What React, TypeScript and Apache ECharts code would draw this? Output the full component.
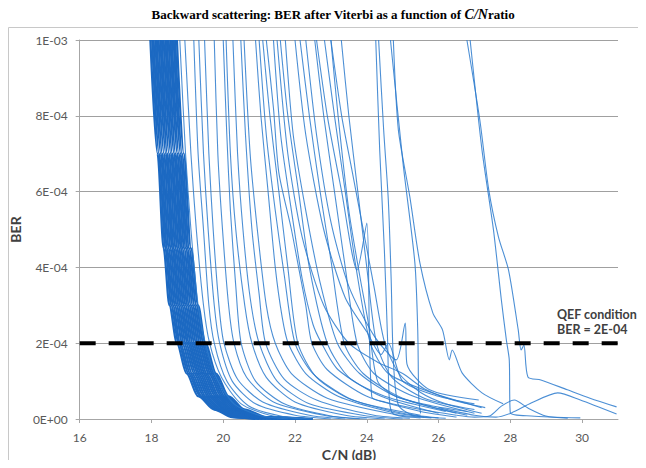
import React, { useEffect, useRef } from 'react';
import * as echarts from 'echarts';

// X axis (C/N in dB)
const X_MIN = 16;
const X_MAX = 31;
const X_TICKS = [16, 18, 20, 22, 24, 26, 28, 30];
// Y axis: BER values are stored in units of 1E-04
const Y_TICK_LABELS = ['0E+00', '2E-04', '4E-04', '6E-04', '8E-04', '1E-03'];
const QEF_LEVEL = 2; // 2E-04
const QEF_X = [16, 31.33];

// Dense band of curves: shared BER levels, one x-array per curve
const DENSE_Y = [10, 7, 4.5, 3, 2, 1.2, 0.6, 0.25, 0.05, 0];
const DENSE_X = [
  [17.97, 18.17, 18.34, 18.5, 18.71, 18.98, 19.3, 19.75, 20.25, 20.9],
  [18.02, 18.21, 18.39, 18.55, 18.76, 19.03, 19.36, 19.8, 20.3, 21.0],
  [18.06, 18.26, 18.43, 18.6, 18.8, 19.08, 19.4, 19.86, 20.37, 21.1],
  [18.11, 18.3, 18.48, 18.65, 18.86, 19.13, 19.46, 19.91, 20.42, 21.2],
  [18.15, 18.35, 18.53, 18.7, 18.91, 19.19, 19.51, 19.96, 20.49, 21.3],
  [18.2, 18.4, 18.58, 18.75, 18.96, 19.24, 19.57, 20.02, 20.55, 21.4],
  [18.25, 18.44, 18.62, 18.8, 19.01, 19.29, 19.62, 20.07, 20.61, 21.5],
  [18.29, 18.49, 18.67, 18.85, 19.05, 19.34, 19.67, 20.12, 20.66, 21.6],
  [18.34, 18.54, 18.72, 18.9, 19.1, 19.39, 19.72, 20.18, 20.72, 21.7],
  [18.39, 18.58, 18.77, 18.95, 19.15, 19.44, 19.78, 20.23, 20.79, 21.8],
  [18.43, 18.63, 18.82, 19.0, 19.2, 19.49, 19.83, 20.28, 20.85, 21.9],
  [18.48, 18.67, 18.86, 19.05, 19.25, 19.54, 19.88, 20.34, 20.9, 22.0],
  [18.53, 18.72, 18.91, 19.1, 19.3, 19.6, 19.94, 20.39, 20.96, 22.1],
  [18.57, 18.76, 18.96, 19.15, 19.35, 19.65, 19.99, 20.44, 21.02, 22.2],
  [18.62, 18.81, 19.0, 19.2, 19.4, 19.7, 20.04, 20.5, 21.08, 22.3],
  [18.66, 18.85, 19.05, 19.25, 19.45, 19.75, 20.1, 20.55, 21.14, 22.4],
  [18.71, 18.9, 19.1, 19.3, 19.5, 19.8, 20.15, 20.6, 21.2, 22.5],
];

// Sparser individual curves: [C/N dB, BER x 1E-04]
const SPARSE: number[][][] = [
  [[18.79, 10], [18.95, 7], [19.1, 5], [19.3, 3], [19.5, 2], [19.8, 1.1], [20.3, 0.4], [21.0, 0.1], [21.8, 0]],
  [[18.93, 10], [19.1, 7], [19.25, 5], [19.45, 3], [19.62, 2], [19.95, 1.1], [20.5, 0.4], [21.3, 0.1], [22.2, 0]],
  [[19.18, 10], [19.3, 7], [19.45, 5], [19.6, 3], [19.75, 2], [20.1, 1.0], [20.7, 0.35], [21.6, 0.08], [22.5, 0]],
  [[19.32, 10], [19.45, 7], [19.58, 5], [19.75, 3], [19.9, 2], [20.25, 1.0], [20.9, 0.4], [22.0, 0.1], [23.0, 0]],
  [[19.48, 10], [19.6, 7], [19.72, 5], [19.88, 3], [20.02, 2], [20.4, 1.05], [21.1, 0.45], [22.4, 0.1], [23.4, 0]],
  [[19.75, 10], [19.85, 7], [19.98, 5], [20.15, 3], [20.3, 2], [20.65, 1.1], [21.4, 0.45], [22.8, 0.1], [23.8, 0]],
  [[20.0, 10], [20.1, 7.5], [20.2, 5.5], [20.35, 3.5], [20.5, 2], [20.9, 1.0], [21.7, 0.4], [23.0, 0.08], [24.0, 0]],
  [[20.08, 10], [20.2, 7], [20.35, 5], [20.6, 3], [20.8, 2], [21.2, 1.1], [22.0, 0.45], [23.4, 0.1], [24.5, 0]],
  [[20.27, 10], [20.4, 7], [20.55, 5], [20.75, 3.2], [21.0, 2], [21.5, 1.0], [22.4, 0.4], [24.0, 0.08], [25.0, 0]],
  [[20.49, 10], [20.62, 7.5], [20.8, 5], [21.0, 3.3], [21.18, 2], [21.7, 1.05], [22.6, 0.5], [24.2, 0.1], [25.2, 0.02]],
  [[20.58, 10], [20.75, 7], [20.95, 5], [21.2, 3], [21.45, 2], [21.9, 1.2], [22.9, 0.55], [24.8, 0.12], [25.8, 0.03]],
  [[20.9, 10], [21.05, 8], [21.25, 6], [21.45, 4], [21.64, 2.7], [21.81, 2], [22.3, 1.2], [23.2, 0.6], [24.6, 0.2], [25.6, 0.05]],
  [[21.0, 10], [21.2, 7.5], [21.45, 5.5], [21.7, 3.8], [22.0, 2], [22.5, 1.2], [23.5, 0.55], [25.0, 0.15], [26.0, 0.03]],
  [[21.1, 10], [21.3, 8], [21.55, 6], [21.8, 4], [22.08, 2], [22.6, 1.1], [23.6, 0.5], [25.5, 0.1]],
  [[21.2, 10], [21.4, 8.2], [21.55, 6.5], [21.9, 5.0], [22.1, 4.0], [22.3, 3.0], [22.47, 2], [22.9, 1.3], [24.0, 0.6], [25.5, 0.2], [26.5, 0.05]],
  [[21.4, 10], [21.6, 7.5], [21.9, 5.5], [22.2, 3.7], [22.5, 2.5], [22.74, 2], [23.2, 1.3], [24.4, 0.6], [26.0, 0.15]],
  [[21.59, 10], [21.8, 8], [22.1, 6], [22.4, 4], [22.9, 2], [23.5, 1.1], [24.5, 0.6], [26.2, 0.2]],
  [[21.73, 10], [21.95, 7.5], [22.3, 5.5], [22.7, 3.6], [23.18, 2], [23.8, 1.2], [24.8, 0.6], [26.5, 0.15]],
  [[22.14, 10], [22.4, 8], [22.7, 6], [23.0, 4.2], [23.37, 2], [23.9, 1.2], [25.0, 0.55], [26.8, 0.1]],
  [[22.55, 10], [22.8, 8], [23.1, 6], [23.4, 4], [23.73, 2], [24.2, 1.2], [25.3, 0.6], [27.0, 0.15]],
  [[22.82, 10], [23.1, 8], [23.4, 6], [23.7, 4], [24.1, 2], [24.6, 1.2], [25.8, 0.7], [27.2, 0.3]],
  [[23.29, 10], [23.5, 8], [23.75, 6], [24.0, 4], [24.27, 2], [24.7, 1.1], [25.6, 0.55], [27.0, 0.25]],
  [[22.6, 10], [22.9, 8], [23.3, 6], [23.73, 3.93], [24.0, 5.17], [24.14, 0.58], [24.5, 0.45], [25.5, 0.25], [26.5, 0.1]],
  [[22.3, 10], [22.6, 7.5], [23.0, 5.2], [23.5, 3.5], [24.2, 2.2], [24.82, 1.56], [25.07, 2.53], [25.12, 1.45], [25.75, 0.77], [27.12, 0.5]],
  [[21.5, 10], [21.8, 7], [22.2, 4.8], [22.8, 3.0], [23.5, 2.0], [24.3, 1.5], [25.0, 1.2], [25.6, 0.8], [26.4, 0.5], [27.3, 0.3]],
  [[22.0, 10], [22.3, 7.5], [22.8, 5.0], [23.4, 3.2], [24.0, 2.3], [24.4, 1.7], [24.6, 2.0], [25.0, 1.0], [26.0, 0.6], [27.0, 0.4]],
  [[23.0, 10], [23.2, 8], [23.5, 5.5], [23.8, 3.8], [24.05, 2.5], [24.3, 1.0], [24.8, 0.6], [25.8, 0.35], [26.8, 0.2]],
  [[24.25, 10], [24.36, 7.1], [24.49, 4.46], [24.58, 2.08], [24.63, 0.5], [24.74, 0.13], [25.5, 0.03]],
  [[24.33, 10], [24.47, 7.63], [24.6, 5.78], [24.68, 3.67], [24.74, 1.56], [24.88, 0.37], [25.29, 0.1], [26.2, 0.02]],
  [[24.66, 10], [25.01, 6.75], [25.34, 4.12], [25.42, 2.35], [25.45, 0.5], [25.5, 0.15]],
  [[24.74, 10], [24.88, 7.63], [25.2, 5.86], [25.48, 4.12], [25.84, 2.8], [26.11, 2.35], [26.3, 1.56], [26.38, 1.82], [26.66, 1.21], [27.21, 0.69], [27.8, 0.4]],
  [[23.0, 10], [23.3, 8], [23.6, 6.5], [23.9, 5], [24.2, 3.5], [24.5, 2], [24.9, 1.2], [25.5, 0.7], [26.2, 0.4], [27.2, 0.15]],
  [[26.79, 10], [27.15, 7.89], [27.4, 6.04], [27.67, 4.8], [27.95, 3.93], [28.22, 2.35], [28.3, 1.82], [28.38, 1.95], [28.49, 1.11], [28.85, 1.03], [29.59, 0.77], [30.22, 0.55], [30.96, 0.32]],
  [[26.88, 10], [27.21, 7.1], [27.53, 4.99], [27.75, 3.14], [27.89, 2.08], [27.97, 1.56], [28.0, 0.16], [28.58, 0.08], [29.95, 0.03]],
  [[26.5, 0.1], [27.0, 0.05], [27.42, 0.08], [27.75, 0.34], [28.11, 0.5], [28.49, 0.29], [28.99, 0.08], [29.6, 0.02]],
  [[26.0, 0.3], [27.0, 0.1], [27.6, 0.05], [28.03, 0.16], [28.58, 0.42], [29.32, 0.69], [29.95, 0.5], [30.96, 0.13]],
];

const DENSE_COLOR = '#1c69c2';
const LINE_COLOR = '#2d7bce';

export default function App() {
  const ref = useRef<HTMLDivElement>(null);

  useEffect(() => {
    if (!ref.current) return;
    const chart = echarts.init(ref.current, undefined, { renderer: 'svg' });

    const denseSeries = DENSE_X.map((xs) => ({
      type: 'line',
      data: xs.map((x, i) => [x, DENSE_Y[i]]),
      showSymbol: false,
      symbol: 'none',
      smooth: 0.3,
      smoothMonotone: 'x',
      silent: true,
      lineStyle: { color: DENSE_COLOR, width: 2.2, opacity: 1 },
      z: 2,
    }));

    const sparseSeries = SPARSE.map((pts) => ({
      type: 'line',
      data: pts,
      showSymbol: false,
      symbol: 'none',
      smooth: 0.25,
      silent: true,
      lineStyle: { color: LINE_COLOR, width: 1.1, opacity: 0.85 },
      z: 2,
    }));

    const qefSeries = {
      type: 'line',
      data: QEF_X.map((x) => [x, QEF_LEVEL]),
      showSymbol: false,
      symbol: 'none',
      clip: false,
      silent: true,
      lineStyle: { color: '#000000', width: 4, type: [16, 13] },
      z: 5,
    };

    chart.setOption({
      animation: false,
      backgroundColor: '#ffffff',
      grid: { left: 70, right: 28, top: 40, bottom: 49, containLabel: false },
      xAxis: {
        type: 'value',
        min: X_MIN,
        max: X_MAX,
        interval: 2,
        name: 'C/N (dB)',
        nameLocation: 'middle',
        nameGap: 21,
        nameTextStyle: { fontFamily: 'Lato', fontWeight: 'bold', fontSize: 14, color: '#404040' },
        axisLine: { show: true, lineStyle: { color: '#a6a6a6', width: 1 } },
        axisTick: { show: true, length: 4, lineStyle: { color: '#a6a6a6' }, customValues: X_TICKS },
        axisLabel: {
          customValues: X_TICKS,
          margin: 12,
          fontFamily: 'Lato',
          fontSize: 12,
          color: '#595959',
        },
        splitLine: { show: false },
      },
      yAxis: {
        type: 'value',
        min: 0,
        max: 10,
        interval: 2,
        name: 'BER',
        nameLocation: 'middle',
        nameGap: 34,
        nameTextStyle: { fontFamily: 'Lato', fontWeight: 'bold', fontSize: 14, color: '#404040' },
        axisLine: { show: true, lineStyle: { color: '#a6a6a6', width: 1 } },
        axisTick: { show: true, length: 4, lineStyle: { color: '#a6a6a6' } },
        axisLabel: {
          margin: 12,
          fontFamily: 'Lato',
          fontSize: 12,
          color: '#595959',
          formatter: (v: number) => Y_TICK_LABELS[Math.round(v / 2)] ?? '',
        },
        splitLine: { show: true, lineStyle: { color: '#a0a0a0', width: 1 } },
      },
      graphic: [
        {
          type: 'rect',
          shape: { x: 8.5, y: 27.5, width: 700, height: 500 },
          style: { fill: 'none', stroke: '#c8c8c8', lineWidth: 1 },
          silent: true,
          z: -1,
        },
        {
          type: 'text',
          x: 333,
          y: 14,
          style: {
            text: '{a|Backward scattering: BER after Viterbi as a function of }{i|C/N}{a|ratio}',
            align: 'center',
            verticalAlign: 'middle',
            rich: {
              a: { fontFamily: 'Liberation Serif', fontWeight: 'bold', fontSize: 13, fill: '#000' },
              i: { fontFamily: 'Liberation Serif', fontWeight: 'bold', fontStyle: 'italic', fontSize: 14, fill: '#000' },
            },
          },
        },
        {
          type: 'text',
          x: 557,
          y: 314,
          style: {
            text: 'QEF condition',
            fontFamily: 'Lato',
            fontWeight: 'bold',
            fontSize: 12.5,
            fill: '#404040',
            verticalAlign: 'middle',
          },
        },
        {
          type: 'text',
          x: 557,
          y: 329,
          style: {
            text: 'BER = 2E-04',
            fontFamily: 'Lato',
            fontWeight: 'bold',
            fontSize: 12.5,
            fill: '#404040',
            verticalAlign: 'middle',
          },
        },
      ],
      series: [...denseSeries, ...sparseSeries, qefSeries],
    });

    return () => chart.dispose();
  }, []);

  return <div ref={ref} style={{ width: 646, height: 468, margin: -8 }} />;
}
